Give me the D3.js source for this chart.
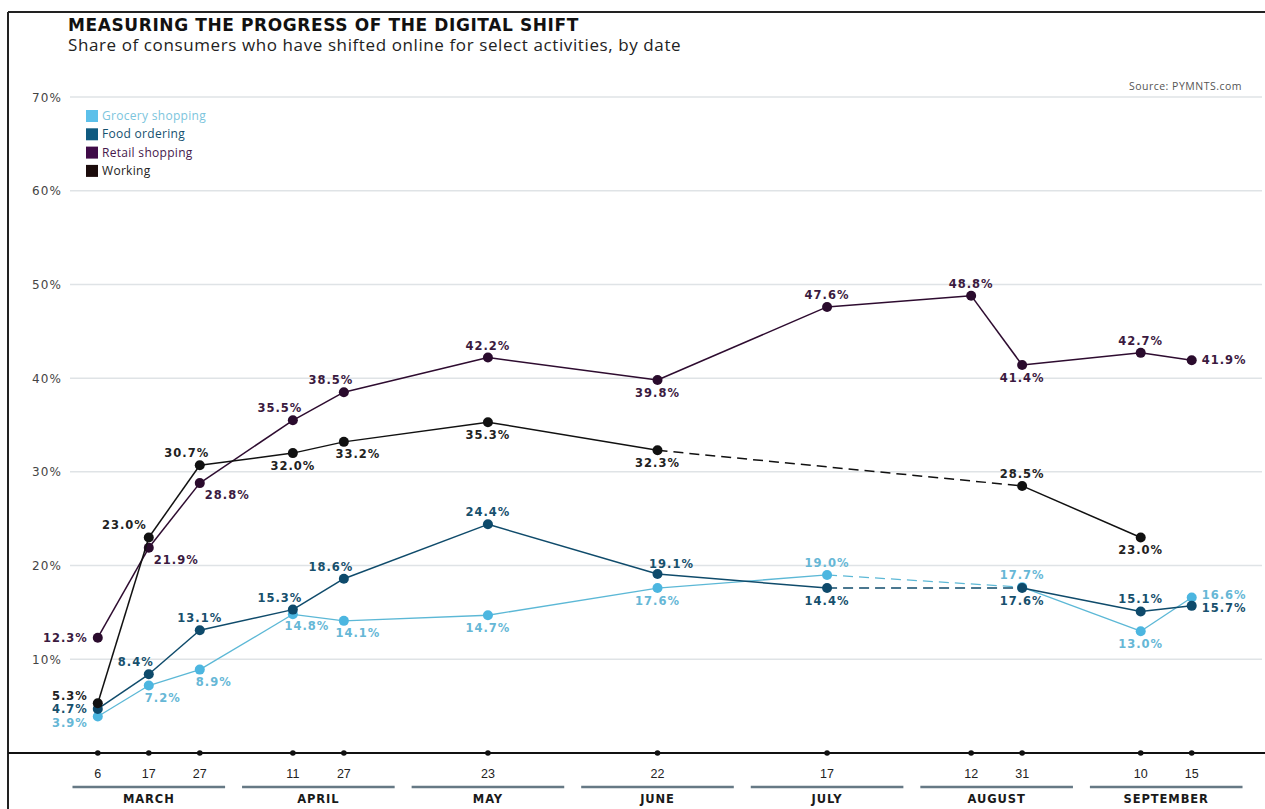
<!DOCTYPE html>
<html>
<head>
<meta charset="utf-8">
<script src="https://cdn.jsdelivr.net/npm/d3@7"></script>
<style>
  html, body { margin: 0; padding: 0; background: #fff; }
  svg { display: block; }
</style>
</head>
<body>
<svg id="chart" width="1265" height="809"></svg>
<script>
// ---------------- DATA ----------------
const months = ["MARCH", "APRIL", "MAY", "JUNE", "JULY", "AUGUST", "SEPTEMBER"];
const dateMonths = ["MARCH", "MARCH", "MARCH", "APRIL", "APRIL", "MAY", "JUNE", "JULY", "AUGUST", "AUGUST", "SEPTEMBER", "SEPTEMBER"];
const dateDays = [6, 17, 27, 11, 27, 23, 22, 17, 12, 31, 10, 15];

const grocery = [3.9, 7.2, 8.9, 14.8, 14.1, 14.7, 17.6, 19.0, null, 17.7, 13.0, 16.6];
// Food ordering: plotted positions as drawn in the reference
const food    = [4.7, 8.4, 13.1, 15.3, 18.6, 24.4, 19.1, 17.6, null, 17.6, 15.1, 15.7];
// Food ordering: values printed next to the points (the July point is printed as 14.4%)
const foodPrinted = [4.7, 8.4, 13.1, 15.3, 18.6, 24.4, 19.1, 14.4, null, 17.6, 15.1, 15.7];
const retail  = [12.3, 21.9, 28.8, 35.5, 38.5, 42.2, 39.8, 47.6, 48.8, 41.4, 42.7, 41.9];
const working = [5.3, 23.0, 30.7, 32.0, 33.2, 35.3, 32.3, null, null, 28.5, 23.0, null];

const seriesNames = ["Grocery shopping", "Food ordering", "Retail shopping", "Working"];
const yTicks = [10, 20, 30, 40, 50, 60, 70];

// label placement codes (a=above, b=below, l=left, r=right, combos)
const groceryPlace = ["ld", "br", "br", "br", "br", "b", "b", "a", null, "a", "b", "ru"];
const foodPlace    = ["l", "al", "a", "al", "al", "a", "ar", "b", null, "b", "a", "rd"];
const retailPlace  = ["l", "rb", "rb", "al", "al", "a", "b", "a", "a", "b", "a", "r"];
const workingPlace = ["lu", "la", "al", "b", "br", "b", "b", null, null, "a", "b", null];

// ---------------- STYLE ----------------
const styles = {
  "Grocery shopping": { line: "#5cb8d6", dot: "#4cb6e0", label: "#66b7d6", legendBox: "#5cc0ea", legendText: "#7cc5dd", width: 1.3 },
  "Food ordering":    { line: "#0f4b6b", dot: "#0e4a6b", label: "#17506d", legendBox: "#0f5a80", legendText: "#14506e", width: 1.5 },
  "Retail shopping":  { line: "#2e0c30", dot: "#2a0b2d", label: "#3b1a3f", legendBox: "#3f0b48", legendText: "#45184c", width: 1.5 },
  "Working":          { line: "#111111", dot: "#111111", label: "#222222", legendBox: "#1b0b0b", legendText: "#222222", width: 1.5 }
};

const svg = d3.select("#chart");

// ---------------- SCALES ----------------
const y = d3.scaleLinear().domain([0, 70]).range([753, 97]);
const monthBand = d3.scaleBand().domain(months).range([64, 1251]).paddingInner(0.1).paddingOuter(0.05);
const dayStep = 51;
const withinMonth = {};
months.forEach(m => {
  const days = dateDays.filter((d, i) => dateMonths[i] === m);
  const c = monthBand(m) + monthBand.bandwidth() / 2;
  const half = (days.length - 1) / 2 * dayStep;
  withinMonth[m] = d3.scalePoint().domain(days).range([c - half, c + half]).padding(0);
});
const xOf = i => withinMonth[dateMonths[i]](dateDays[i]);

// ---------------- FRAME ----------------
svg.append("line").attr("x1", 8).attr("x2", 1265).attr("y1", 12).attr("y2", 12)
  .attr("stroke", "#222").attr("stroke-width", 2);
svg.append("line").attr("x1", 8).attr("x2", 8).attr("y1", 12).attr("y2", 809)
  .attr("stroke", "#222").attr("stroke-width", 2);

// ---------------- TITLES ----------------
svg.append("text").attr("x", 68).attr("y", 31)
  .attr("font-family", "DejaVu Sans").attr("font-weight", "bold").attr("font-size", 17)
  .attr("letter-spacing", 0.6).attr("fill", "#111")
  .text("MEASURING THE PROGRESS OF THE DIGITAL SHIFT");
svg.append("text").attr("x", 68).attr("y", 51)
  .attr("font-family", "Open Sans").attr("font-size", 17).attr("letter-spacing", 0.6).attr("fill", "#222")
  .text("Share of consumers who have shifted online for select activities, by date");
svg.append("text").attr("x", 1242).attr("y", 90).attr("text-anchor", "end")
  .attr("font-family", "Open Sans").attr("font-size", 10.5).attr("letter-spacing", 0.5).attr("fill", "#555")
  .text("Source: PYMNTS.com");

// ---------------- GRID ----------------
const grid = svg.append("g");
grid.selectAll("line").data(yTicks).join("line")
  .attr("x1", 70).attr("x2", 1262)
  .attr("y1", d => y(d)).attr("y2", d => y(d))
  .attr("stroke", "#dfe3e6").attr("stroke-width", 1.5);
grid.selectAll("text").data(yTicks).join("text")
  .attr("x", 62).attr("y", d => y(d) + 4.5).attr("text-anchor", "end")
  .attr("font-family", "DejaVu Sans").attr("font-size", 12).attr("letter-spacing", 1.1)
  .attr("fill", "#444").text(d => d + "%");

// ---------------- LEGEND ----------------
const legend = svg.append("g");
seriesNames.forEach((name, i) => {
  const ly = 116 + i * 18.3;
  legend.append("rect").attr("x", 86).attr("y", ly - 6).attr("width", 12).attr("height", 12)
    .attr("fill", styles[name].legendBox);
  legend.append("text").attr("x", 102).attr("y", ly + 4)
    .attr("font-family", "Open Sans").attr("font-size", 12).attr("letter-spacing", 0.3)
    .attr("fill", styles[name].legendText).text(name);
});

// ---------------- X AXIS ----------------
const axis = svg.append("g");
axis.append("line").attr("x1", 8).attr("x2", 1265).attr("y1", y(0)).attr("y2", y(0))
  .attr("stroke", "#111").attr("stroke-width", 2);
axis.selectAll("circle").data(dateDays.map((d, i) => i)).join("circle")
  .attr("cx", i => xOf(i)).attr("cy", y(0)).attr("r", 2.8).attr("fill", "#111");
axis.selectAll("text.day").data(dateDays.map((d, i) => i)).join("text")
  .attr("class", "day")
  .attr("x", i => xOf(i)).attr("y", 778).attr("text-anchor", "middle")
  .attr("font-family", "Liberation Sans").attr("font-size", 12.5).attr("fill", "#222")
  .text(i => dateDays[i]);
axis.selectAll("line.under").data(months).join("line")
  .attr("class", "under")
  .attr("x1", m => monthBand(m)).attr("x2", m => monthBand(m) + monthBand.bandwidth())
  .attr("y1", 787).attr("y2", 787).attr("stroke", "#667985").attr("stroke-width", 2.5);
axis.selectAll("text.month").data(months).join("text")
  .attr("class", "month")
  .attr("x", m => monthBand(m) + monthBand.bandwidth() / 2).attr("y", 803).attr("text-anchor", "middle")
  .attr("font-family", "DejaVu Sans").attr("font-weight", "bold").attr("font-size", 11.5)
  .attr("letter-spacing", 0.9).attr("fill", "#1a1a1a")
  .text(m => m);

// ---------------- SERIES ----------------
const placement = {
  a:  { dx: 0,   dy: -8,   anchor: "middle" },
  b:  { dx: 0,   dy: 17,   anchor: "middle" },
  l:  { dx: -10, dy: 4.2,  anchor: "end" },
  lu: { dx: -10, dy: -3.6, anchor: "end" },
  ld: { dx: -10, dy: 10.3, anchor: "end" },
  r:  { dx: 10,  dy: 4,    anchor: "start" },
  ru: { dx: 10,  dy: 2,    anchor: "start" },
  rd: { dx: 10,  dy: 6,    anchor: "start" },
  al: { dx: -13, dy: -8,   anchor: "middle" },
  ar: { dx: 14,  dy: -6,   anchor: "middle" },
  br: { dx: 14,  dy: 16,   anchor: "middle" },
  rb: { dx: 5,   dy: 16,   anchor: "start" },
  la: { dx: -2,  dy: -8,   anchor: "end" }
};

const allSeries = [
  { name: "Grocery shopping", values: grocery, printed: grocery, place: groceryPlace },
  { name: "Food ordering",    values: food,    printed: foodPrinted, place: foodPlace },
  { name: "Retail shopping",  values: retail,  printed: retail, place: retailPlace },
  { name: "Working",          values: working, printed: working, place: workingPlace }
];

allSeries.forEach(s => {
  const st = styles[s.name];
  const g = svg.append("g");
  const idx = s.values.map((v, i) => v == null ? null : i).filter(i => i != null);
  const segs = d3.pairs(idx);
  g.selectAll("path").data(segs).join("path")
    .attr("d", ([a, b]) => d3.line().x(i => xOf(i)).y(i => y(s.values[i]))([a, b]))
    .attr("fill", "none").attr("stroke", st.line).attr("stroke-width", st.width)
    .attr("stroke-dasharray", ([a, b]) => b - a > 1 ? "10,6" : null);
  g.selectAll("circle").data(idx).join("circle")
    .attr("cx", i => xOf(i)).attr("cy", i => y(s.values[i])).attr("r", 5)
    .attr("fill", st.dot);
  g.selectAll("text").data(idx.filter(i => s.place[i])).join("text")
    .attr("x", i => xOf(i) + placement[s.place[i]].dx)
    .attr("y", i => y(s.values[i]) + placement[s.place[i]].dy)
    .attr("text-anchor", i => placement[s.place[i]].anchor)
    .attr("font-family", "DejaVu Sans").attr("font-weight", "bold").attr("font-size", 11.5)
    .attr("letter-spacing", 1).attr("fill", st.label)
    .text(i => d3.format(".1f")(s.printed[i]) + "%");
});
</script>
</body>
</html>
